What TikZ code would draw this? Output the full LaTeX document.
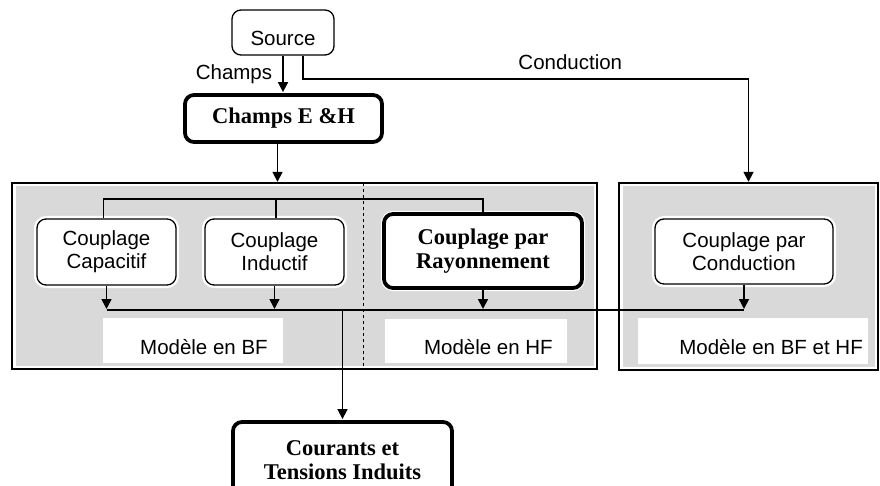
\documentclass[tikz,border=0pt]{standalone}
\usepackage{fontspec}
\setmainfont{Liberation Sans}
\newfontfamily\serifbold{Liberation Serif}
\usetikzlibrary{arrows.meta}
\pgfdeclarelayer{background}
\pgfsetlayers{background,main}

\tikzset{
  sbox/.style={draw, rounded corners=9, line width=1.3, fill=white,
    preaction={draw=white, line width=6},
    align=center, inner sep=3, font=\fontsize{20.5}{23}\selectfont},
  lowtext/.style={execute at begin node={\rule{0pt}{26pt}}},
  bbox/.style={sbox, line width=3.8, font=\serifbold\bfseries\fontsize{22.5}{24}\selectfont},
  panel/.style={fill=black!15, postaction={draw=white, line width=7},
    postaction={draw=black, line width=1.3}},
  model/.style={fill=white, inner sep=0},
  modeltext/.style={inner sep=0, anchor=east, font=\fontsize{20.5}{23}\selectfont},
  wire/.style={line width=1.7},
  link/.style={wire, -{Triangle[length=10pt,width=10pt]}, shorten >=1},
}

\begin{document}
\begin{tikzpicture}[x=1pt,y=-1pt]
\clip (0,0) rectangle (880,486);
\begin{pgfonlayer}{background}
\node[panel, minimum width=585, minimum height=186] (bfhf) at (304.5,276) {};
\node[panel, minimum width=259, minimum height=187] (cpanel) at (748.5,276.5) {};
\coordinate (split) at (363,0);
\draw[dashed, line width=1] (split |- bfhf.north) -- (split |- bfhf.south);
\end{pgfonlayer}

% boxes
\node[sbox, lowtext, minimum width=102, minimum height=45] (source) at (283,32.5) {Source};
\node[bbox, minimum width=197, minimum height=47] (fields) at (283.5,118.5) {Champs E \&H};
\node[sbox, lowtext, minimum width=139, minimum height=66] (capa) at (106.5,252) {Couplage\\Capacitif};
\node[sbox, lowtext, minimum width=139, minimum height=66] (indu) at (274.5,252) {Couplage\\Inductif};
\node[bbox, lowtext, minimum width=198, minimum height=74] (rayo) at (483,251) {Couplage par\\Rayonnement};
\node[sbox, lowtext, minimum width=178, minimum height=65] (cond) at (744,251.5) {Couplage par\\Conduction};
\node[bbox, minimum width=219, minimum height=76] (induit) at (342.5,460) {Courants et\\Tensions Induits};

% models
\node[model, minimum width=180, minimum height=45] (mbf) at (193,340.5) {};
\node[model, minimum width=182, minimum height=44] (mhf) at (476,341) {};
\node[model, minimum width=230, minimum height=46] (mbfhf) at (753,341) {};
\node[modeltext] (tbf) at (268,347) {Modèle en BF};
\node[modeltext] (thf) at (553,347) {Modèle en HF};
\node[modeltext] (tbfhf) at (863,347) {Modèle en BF et HF};

% connectors
\draw[link] (source.south) -- (source.south |- fields.north)
  node[midway, left=10, inner sep=0, font=\fontsize{20.5}{23}\selectfont] (lfields) {Champs};
\coordinate (bend) at (303,79);
\draw[link] (source.south -| bend) -- (bend) -| (cpanel.north)
  node[pos=0.3, above=5, font=\fontsize{20.5}{23}\selectfont] (lcond) {Conduction};
\draw[link] ([xshift=-6]fields.south) -- ([xshift=-6]fields.south |- bfhf.north);

\coordinate (feed) at (0,199);
\draw[wire] ([xshift=-3]capa.north) |- (feed -| rayo.north) -- (rayo.north);
\draw[wire] ([xshift=1.5]indu.north) -- ([xshift=1.5]indu.north |- feed);

\coordinate (sum) at (0,310);
\foreach \b in {capa,indu,rayo,cond}
  \draw[link] (\b.south) -- (\b.south |- sum);
\draw[wire] (capa.south |- sum) -- (cond.south |- sum);
\draw[link] (induit.north |- sum) -- (induit.north);
\end{tikzpicture}
\end{document}
